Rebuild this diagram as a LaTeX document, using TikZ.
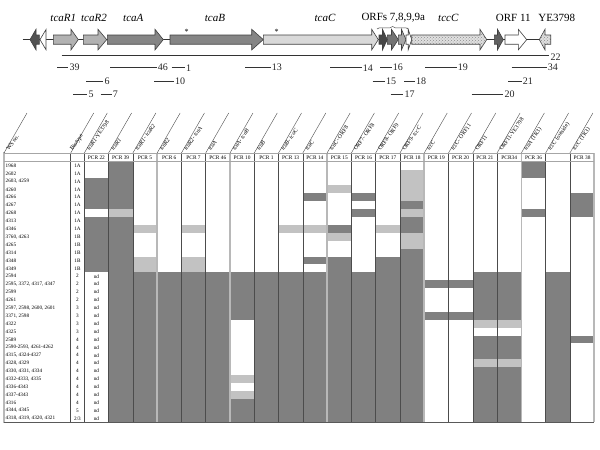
\documentclass[tikz,border=0pt]{standalone}
\usepackage{fontspec}
\setmainfont{Liberation Serif}
\usetikzlibrary{patterns,decorations.pathreplacing}
\colorlet{dk}{black!50}
\colorlet{lt}{black!24}
\newcommand\GeneR[4]{\draw[gene,#4] (#1,35) -- (#3,35) -- (#3,29.3) -- (#2,39.6) -- (#3,49.9) -- (#3,44.2) -- (#1,44.2) -- cycle;}
\newcommand\GeneL[4]{\draw[gene,#4] (#2,35) -- (#3,35) -- (#3,29.3) -- (#1,39.6) -- (#3,49.9) -- (#3,44.2) -- (#2,44.2) -- cycle;}
\newcommand\Amp[4]{\coordinate (a#4) at (#1,#3); \coordinate (b#4) at (#2,#3); \draw[amp] (a#4) -- (b#4); \node[amplab] (l#4) at (b#4) {#4};}
\newcommand\RowL[3]{\node[rowlab] (w#1) at (5.5,{161.7+(#1-0.5)*7.9}) {#2}; \node[biolab] (t#1) at (77.5,{161.7+(#1-0.5)*7.9}) {#3};}
\begin{document}
\begin{tikzpicture}[x=1pt,y=-1pt,
  gene/.style={draw=black!75,line width=0.6pt},
  amp/.style={draw=black!80,line width=0.9pt},
  amplab/.style={anchor=west,inner sep=1pt,font=\fontsize{10}{12}\selectfont,text=black!85},
  glab/.style={inner sep=0pt,font=\fontsize{11}{13}\selectfont},
  rowlab/.style={anchor=west,inner sep=0pt,font=\fontsize{5.2}{6}\selectfont},
  biolab/.style={inner sep=0pt,font=\fontsize{5.2}{6}\selectfont},
  pcrlab/.style={inner sep=0pt,font=\fontsize{5.4}{6}\selectfont},
  diag/.style={draw=black!70,line width=0.4pt},
  dlab/.style={rotate=55,anchor=base west,inner sep=0pt,font=\fontsize{5.8}{6}\selectfont},
  thinsep/.style={draw=black!70,line width=0.5pt},
  thicksep/.style={draw=black!28,line width=1.6pt}]
\useasboundingbox (0,0) rectangle (600,450);
\fill[white] (0,0) rectangle (600,450);
% ---------- gene map ----------
\draw[black!80,line width=0.7pt] (22.7,39.5) -- (550.7,39.5);
\GeneL{30}{39.3}{36}{fill=black!68}
\draw[gene,fill=white] (46,29.5) -- (40,39.6) -- (46,49.7) -- cycle;
\GeneR{53.3}{78.3}{71}{fill=black!30}
\GeneR{83.3}{106.7}{98}{fill=black!30}
\GeneR{107.3}{163.3}{155}{fill=black!48}
\GeneR{170}{263.3}{251.7}{fill=black!48}
\GeneR{263.3}{378.3}{371.7}{fill=black!15}
\GeneR{379}{387.3}{382.5}{fill=black!72}
\GeneR{387.3}{398.3}{391.5}{fill=black!55}
\GeneR{398.3}{406}{401.5}{fill=black!35}
\GeneR{406}{411.7}{408.2}{fill=white}
\GeneR{411.7}{486.7}{480}{fill=black!12,postaction={pattern=crosshatch dots,pattern color=black!45}}
\GeneR{494.3}{503.3}{497.5}{fill=black!62}
\GeneR{505}{526.7}{518.3}{fill=white}
\GeneL{539.3}{550.7}{545}{fill=black!12,postaction={pattern=crosshatch dots,pattern color=black!45}}
\node[font=\fontsize{8}{8}\selectfont] (st1) at (186.7,31.5) {*};
\node[font=\fontsize{8}{8}\selectfont] (st2) at (276.7,31.5) {*};
\node[glab] (g1) at (63.3,17.7) {\itshape tcaR1};
\node[glab] (g2) at (94,17.7) {\itshape tcaR2};
\node[glab] (g3) at (133.3,17.7) {\itshape tcaA};
\node[glab] (g4) at (215,17.7) {\itshape tcaB};
\node[glab] (g5) at (325,17.7) {\itshape tcaC};
\node[glab] (g6) at (393.3,17.7) {ORFs 7,8,9,9a};
\node[glab] (g7) at (448.3,17.7) {\itshape tccC};
\node[glab] (g8) at (513.3,17.7) {ORF 11};
\node[glab] (g9) at (556.7,17.7) {YE3798};
\draw[black!70,line width=0.5pt,decorate,decoration={brace,amplitude=2.5pt}] (377,29) -- (408.3,29);
% amplicons
\coordinate (a22) at (61.7,55); \coordinate (b22) at (549.3,55);
\draw[amp] (a22) -- (b22);
\node[amplab,yshift=-2.5pt] (l22) at (b22) {22};
\Amp{57.3}{68.3}{67.7}{39}
\Amp{110}{156.7}{67.7}{46}
\Amp{171.7}{185}{67.7}{1}
\Amp{245}{270.7}{67.7}{13}
\Amp{330}{361.7}{67.7}{14}
\Amp{380}{391.7}{67.7}{16}
\Amp{425}{456.7}{67.7}{19}
\Amp{511.7}{546.7}{67.7}{34}
\Amp{86}{103.3}{81}{6}
\Amp{154}{174}{81}{10}
\Amp{372.7}{385}{81}{15}
\Amp{404}{415}{81}{18}
\Amp{508.3}{521.7}{81}{21}
\Amp{73.3}{87.3}{94.3}{5}
\Amp{100.7}{111.7}{94.3}{7}
\Amp{390.7}{403.3}{94.3}{17}
\Amp{471.7}{503.3}{94.3}{20}
% ---------- table cells ----------
\foreach \k/\a/\b/\c in {0/3/6/dk,0/8/14/dk,
 1/1/6/dk,1/7/7/lt,1/8/33/dk,
 2/9/9/lt,2/13/14/lt,2/15/33/dk,
 3/15/33/dk,
 4/9/9/lt,4/13/14/lt,4/15/33/dk,
 5/15/33/dk,
 6/15/20/dk,6/28/28/lt,6/30/30/lt,6/31/33/dk,
 7/15/33/dk,
 8/9/9/lt,8/15/33/dk,
 9/5/5/dk,9/9/9/lt,9/13/13/dk,9/15/33/dk,
 10/4/4/lt,10/9/9/dk,10/10/10/lt,10/13/33/dk,
 11/5/5/dk,11/7/7/dk,11/15/33/dk,
 12/9/9/lt,12/13/33/dk,
 13/2/5/lt,13/6/6/dk,13/7/7/lt,13/8/9/dk,13/10/11/lt,13/12/33/dk,
 14/16/16/dk,14/20/20/dk,
 15/16/16/dk,15/20/20/dk,
 16/15/20/dk,16/21/21/lt,16/23/25/dk,16/26/26/lt,16/27/33/dk,
 17/15/20/dk,17/21/21/lt,17/23/25/dk,17/26/26/lt,17/27/33/dk,
 18/1/2/dk,18/7/7/dk,
 19/15/33/dk,
 20/5/7/dk,20/23/23/dk}
 {\fill[fill=\c] ({84.3+\k*24.28},{161.7+(\a-1)*7.9}) rectangle ({84.3+(\k+1)*24.28},{161.7+\b*7.9});}
% ---------- grid ----------
\foreach \k in {0,1,2,4,5,7,8,9,11,12,13,15,16,17,19,20}
 {\draw[thinsep] ({84.3+\k*24.28},153) -- ({84.3+\k*24.28},422.4);}
\foreach \k in {3,6,10,14,18,21}
 {\draw[thicksep] ({84.3+\k*24.28},153) -- ({84.3+\k*24.28},422.4);}
\draw[thinsep] (70.7,153) -- (70.7,422.4);
\draw[thicksep] (4,152.4) -- (4,423);
\draw[draw=black!35,line width=1pt] (4,153) -- (594.2,153);
\draw[draw=black!35,line width=1.3pt] (4,161.7) -- (594.2,161.7);
\draw[draw=black!65,line width=0.8pt] (4,422.6) -- (594.2,422.6);
% diagonal header lines
\foreach \x in {4,70.7} {\draw[diag] (\x,153) -- ++(23,-40);}
\foreach \k in {0,...,20} {\draw[diag] ({84.3+\k*24.28},153) -- ++(23,-40);}
\node[dlab] (hws) at (9,151) {WS no.};
\node[dlab] (hbio) at (72.5,151) {Biotype};
\foreach \k/\t in {0/{\itshape tcaR1}-YE3798,1/{\itshape tcaR1},2/{\itshape tcaR1}- {\itshape tcaR2},
 3/{\itshape tcaR2},4/{\itshape tcaR2}- {\itshape tcaA},5/{\itshape tcaA},6/{\itshape tcaA}- {\itshape tcaB},
 7/{\itshape tcaB},8/{\itshape tcaB}- {\itshape tcaC},9/{\itshape tcaC},10/{\itshape tcaC}- ORF8,
 11/ORF7- ORF8,12/ORF8- ORF9,13/ORF9- {\itshape tccC},14/{\itshape tccC},15/{\itshape tccC}- ORF11,
 16/ORF11,17/ORF11-YE3798,18/{\itshape tcaA} (TR3),19/{\itshape tccC} (outside),20/{\itshape tccC} (TR3)}
 {\node[dlab] (d\k) at ({84.3+\k*24.28+5},151) {\t};}
% PCR header row
\foreach \k/\t in {0/PCR 22,1/PCR 39,2/PCR 5,3/PCR 6,4/PCR 7,5/PCR 46,6/PCR 10,7/PCR 1,8/PCR 13,
 9/PCR 14,10/PCR 15,11/PCR 16,12/PCR 17,13/PCR 18,14/PCR 19,15/PCR 20,16/PCR 21,17/PCR34,18/PCR 36,20/PCR 38}
 {\node[pcrlab] (p\k) at ({84.3+(\k+0.5)*24.28},157.6) {\t};}
% row labels
\RowL{1}{1968}{1A}
\RowL{2}{2602}{1A}
\RowL{3}{2603, 4259}{1A}
\RowL{4}{4260}{1A}
\RowL{5}{4266}{1A}
\RowL{6}{4267}{1A}
\RowL{7}{4268}{1A}
\RowL{8}{4313}{1A}
\RowL{9}{4346}{1A}
\RowL{10}{3760, 4263}{1B}
\RowL{11}{4265}{1B}
\RowL{12}{4314}{1B}
\RowL{13}{4348}{1B}
\RowL{14}{4349}{1B}
\RowL{15}{2594}{2}
\RowL{16}{2595, 3372, 4317, 4347}{2}
\RowL{17}{2599}{2}
\RowL{18}{4261}{2}
\RowL{19}{2597, 2598, 2600, 2601}{3}
\RowL{20}{3371, 2598}{3}
\RowL{21}{4322}{3}
\RowL{22}{4325}{3}
\RowL{23}{2589}{4}
\RowL{24}{2590-2593, 4261-4262}{4}
\RowL{25}{4315, 4324-4327}{4}
\RowL{26}{4328, 4329}{4}
\RowL{27}{4330, 4331, 4334}{4}
\RowL{28}{4332-4333, 4335}{4}
\RowL{29}{4336-4343}{4}
\RowL{30}{4337-4343}{4}
\RowL{31}{4316}{4}
\RowL{32}{4344, 4345}{5}
\RowL{33}{4318, 4319, 4320, 4321}{2/3}
\foreach \i in {15,...,33} {\node[biolab] (nd\i) at (96.4,{161.7+(\i-0.5)*7.9}) {nd};}
\end{tikzpicture}
\end{document}
